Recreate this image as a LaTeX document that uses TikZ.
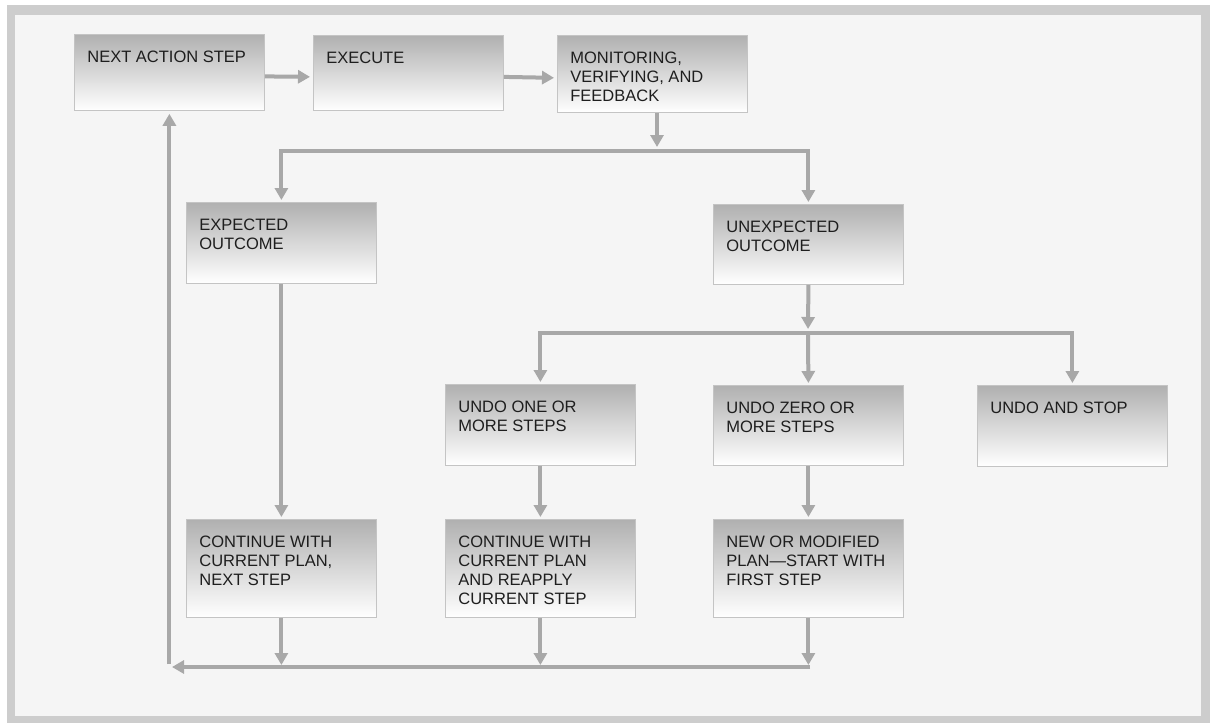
\documentclass[tikz,border=0pt]{standalone}
\usepackage{fontspec}
\setmainfont{Liberation Sans}
\usetikzlibrary{arrows.meta}
\definecolor{framegray}{HTML}{CDCDCD}
\definecolor{innerbg}{HTML}{F5F5F5}
\definecolor{boxtop}{HTML}{B0B0B0}
\definecolor{boxmid}{HTML}{EEEEEE}
\definecolor{boxedge}{HTML}{C4C4C4}
\definecolor{arrowgray}{HTML}{A8A8A8}
\definecolor{txt}{HTML}{1E1E1E}
\newcommand{\boxtxt}[2]{\parbox[t][#1][t]{190pt}{\vspace*{17pt}\raggedright\leftskip=13pt\relax\fontsize{16.5}{19}\selectfont\color{txt}#2\par}}
\tikzset{
  stepbox/.style={draw=boxedge, line width=0.8pt, top color=boxtop, middle color=boxmid, bottom color=white, inner sep=0pt, anchor=north west},
  conn/.style={draw=arrowgray, line width=4pt},
  Tri/.tip={Triangle[width=13pt,length=12pt]},
}
\begin{document}
\begin{tikzpicture}[x=1pt,y=-1pt]
\useasboundingbox (0,0) rectangle (1210,723);
\fill[white] (0,0) rectangle (1210,723);
\fill[framegray] (7,5) rectangle (1210,723);
\fill[innerbg] (15,15) rectangle (1201,716);

% boxes
\node[stepbox] (next)  at (74,34)   {\boxtxt{76pt}{NEXT ACTION STEP}};
\node[stepbox] (exec)  at (313,35)  {\boxtxt{75pt}{EXECUTE}};
\node[stepbox] (mon)   at (557,35)  {\boxtxt{77pt}{MONITORING,\\VERIFYING, AND\\FEEDBACK}};
\node[stepbox] (exp)   at (186,202) {\boxtxt{81pt}{EXPECTED\\OUTCOME}};
\node[stepbox] (unexp) at (713,204) {\boxtxt{80pt}{UNEXPECTED\\OUTCOME}};
\node[stepbox] (undo1) at (445,384) {\boxtxt{81pt}{UNDO ONE OR\\MORE STEPS}};
\node[stepbox] (undo0) at (713,385) {\boxtxt{80pt}{UNDO ZERO OR\\MORE STEPS}};
\node[stepbox] (stop)  at (977,385) {\boxtxt{81pt}{UNDO AND STOP}};
\node[stepbox] (cont1) at (186,519) {\boxtxt{98pt}{CONTINUE WITH\\CURRENT PLAN,\\NEXT STEP}};
\node[stepbox] (cont2) at (445,519) {\boxtxt{98pt}{CONTINUE WITH\\CURRENT PLAN\\AND REAPPLY\\CURRENT STEP}};
\node[stepbox] (new)   at (713,519) {\boxtxt{98pt}{NEW OR MODIFIED\\PLAN\textemdash START WITH\\FIRST STEP}};

% junction coordinates
\coordinate (j1) at (657,151);
\coordinate (j2) at (808,333);
\coordinate (bl) at (172,667);
\coordinate (br) at (810,667);
\coordinate (lb) at (169,664);

% top row
\draw[conn,-Tri,shorten >=3pt] ([yshift=-4pt]next.east) -- ([yshift=-4pt]exec.west);
\draw[conn,-Tri,shorten >=3pt] ([yshift=-4pt]exec.east) -- ([yshift=-4pt]mon.west);
\draw[conn,-Tri,shorten >=4pt] (mon.south -| j1) -- (j1);

% split to outcomes
\draw[conn,Tri-Tri,shorten <=2pt,shorten >=2pt] (exp.north) |- (j1) -| (unexp.north);
\draw[conn,-Tri,shorten >=2pt] (exp.south) -- (exp.south |- cont1.north);

% unexpected branch
\draw[conn,-Tri,shorten >=4pt] (unexp.south) -- (j2);
\draw[conn,Tri-Tri,shorten <=2pt,shorten >=2pt] (undo1.north) |- (j2) -| (stop.north);
\draw[conn,-Tri,shorten >=2pt] (j2) -- (undo0.north);
\draw[conn,-Tri,shorten >=2pt] (undo1.south) -- (undo1.south |- cont2.north);
\draw[conn,-Tri,shorten >=2pt] (undo0.south) -- (undo0.south |- new.north);

% return path
\draw[conn,-Tri,shorten >=2pt] (cont1.south) -- (cont1.south |- br);
\draw[conn,-Tri,shorten >=2pt] (cont2.south) -- (cont2.south |- br);
\draw[conn,-Tri,shorten >=2pt] (new.south) -- (new.south |- br);
\draw[conn,-Tri] (br) -- (bl);
\draw[conn,-Tri,shorten >=3pt] (next.south |- lb) -- (next.south);
\end{tikzpicture}
\end{document}
